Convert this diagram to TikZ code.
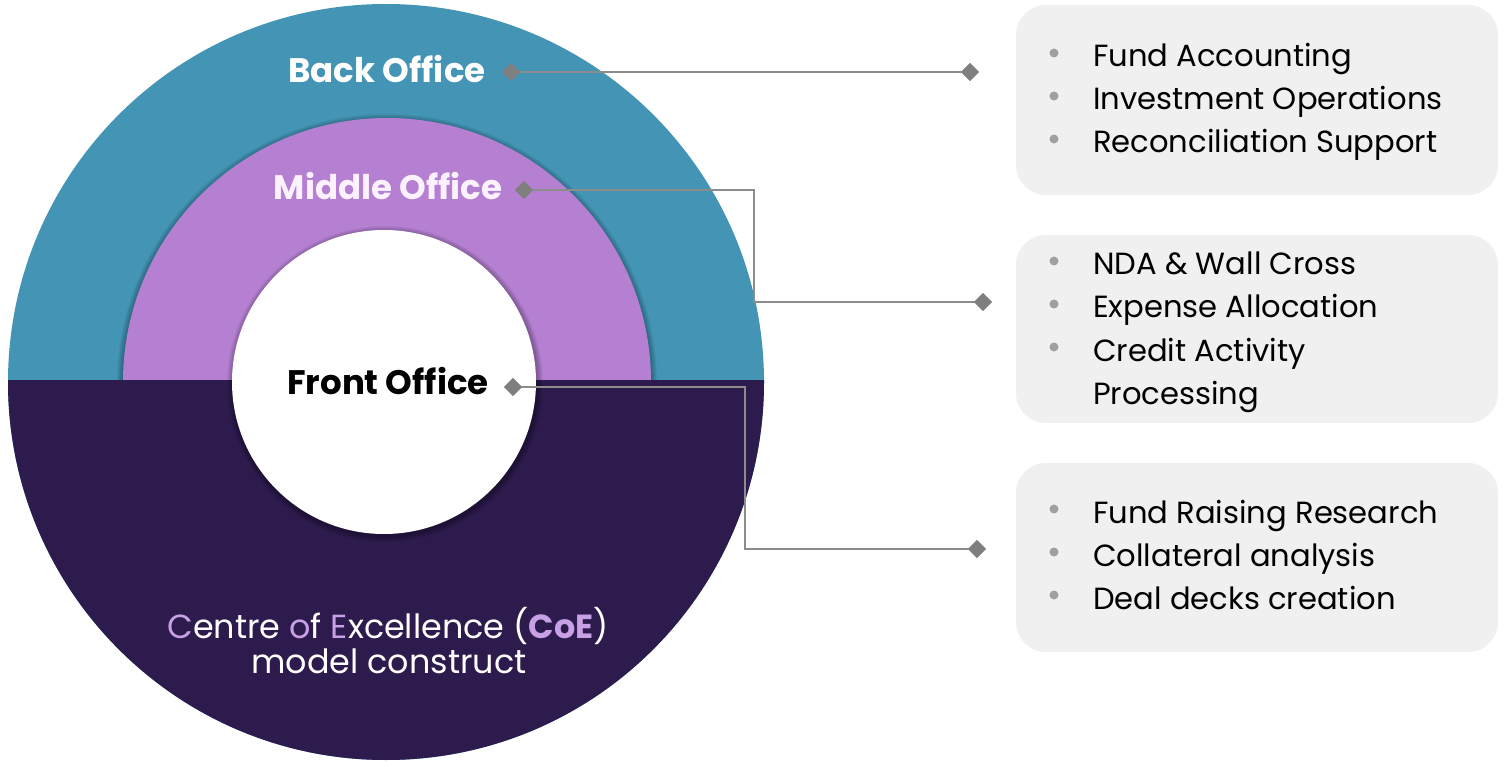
\documentclass[tikz,border=0pt]{standalone}
\usepackage{fontspec}
\setmainfont{Poppins}
\usetikzlibrary{shapes.geometric}
\definecolor{ringteal}{HTML}{4394B5}
\definecolor{ringpurple}{HTML}{B580D2}
\definecolor{ringdark}{HTML}{2D1B4D}
\definecolor{lav}{HTML}{C8A0E6}
\definecolor{midtext}{HTML}{FCF2FF}
\definecolor{boxgray}{HTML}{F0F0F0}
\definecolor{conngray}{HTML}{8C8C8C}
\definecolor{diagray}{HTML}{7F7F7F}
\definecolor{bulgray}{HTML}{A0A0A0}
\tikzset{
  ringlabel/.style={font=\fontsize{34}{40}\selectfont\bfseries, inner sep=0pt, anchor=base},
  dia/.style={diamond, fill=diagray, inner sep=0pt, minimum width=18pt, minimum height=18pt},
  conn/.style={draw=conngray, line width=2pt},
  infobox/.style={fill=boxgray, rounded corners=30pt, inner sep=0pt, minimum width=482pt},
  item/.style={font=\fontsize{30.6}{36}\selectfont, inner sep=0pt, anchor=base west, text=black},
  bul/.style={circle, fill=bulgray, inner sep=0pt, minimum size=9pt},
  coe/.style={font=\fontsize{33.4}{38}\selectfont, inner sep=0pt, anchor=base, text=white}
}
\begin{document}
\begin{tikzpicture}[x=1pt,y=-1pt]
\useasboundingbox (0,0) rectangle (1505,767);
\fill[white] (0,0) rectangle (1505,767);
% outer ring (teal)
\fill[ringteal] (386,382) circle (378pt);
% shadow + middle ring
\foreach \r in {1,2,3,4,5,6} {\fill[black,opacity=0.05] (387,384) circle (264pt+\r pt);}
\fill[ringpurple] (387,382) circle (264pt);
% lower half dark
\begin{scope}
\clip (0,380) rectangle (770,767);
\fill[ringdark] (386,382) circle (378pt);
\end{scope}
% inner white circle with shadow
\foreach \r in {1,2,3,4,5,6} {\fill[black,opacity=0.05] (385,384) circle (152pt+\r pt);}
\fill[white] (384,382) circle (152pt);

% ring labels
\node[ringlabel, text=white] (back) at (387,83) {Back Office};
\node[ringlabel, text=midtext] (middle) at (388,200) {Middle Office};
\node[ringlabel, text=black] (front) at (388,394) {Front Office};

\node[coe] (coe1) at (388,638) {{\color{lav}C}entre {\color{lav}o}f {\color{lav}E}xcellence ({\color{lav}\bfseries CoE})};
\node[coe] (coe2) at (389,673) {model construct};

% boxes
\node[infobox, minimum height=190pt] (box1) at (1257,100) {};
\node[infobox, minimum height=188pt] (box2) at (1257,329) {};
\node[infobox, minimum height=189pt] (box3) at (1257,557.5) {};

% connectors
\node[dia] (bd1) at (511,72) {};
\node[dia] (bd2) at (970,72) {};
\node[dia] (md1) at (524,190) {};
\node[dia] (md2) at (983,302) {};
\node[dia] (fd1) at (513,387) {};
\node[dia] (fd2) at (977,549) {};
\coordinate (mk) at (754,0);
\coordinate (fk) at (745,0);
\draw[conn] (bd1.center) -- (bd2.center);
\draw[conn] (md1.center) -- (md1.center -| mk) |- (md2.center);
\draw[conn] (fd1.center) -- (fd1.center -| fk) |- (fd2.center);
\node[dia] at (bd1) {};
\node[dia] at (bd2) {};
\node[dia] at (md1) {};
\node[dia] at (md2) {};
\node[dia] at (fd1) {};
\node[dia] at (fd2) {};

% box 1 items
\node[bul] (b1a) at (1054,53) {};
\node[bul] (b1b) at (1054,96) {};
\node[bul] (b1c) at (1054,139) {};
\node[item] (t1a) at (1093,67) {Fund Accounting};
\node[item] (t1b) at (1093,110) {Investment Operations};
\node[item] (t1c) at (1093,153) {Reconciliation Support};
% box 2 items
\node[bul] (b2a) at (1054,261) {};
\node[bul] (b2b) at (1054,304) {};
\node[bul] (b2c) at (1054,347) {};
\node[item] (t2a) at (1093,275) {NDA \& Wall Cross};
\node[item] (t2b) at (1093,318) {Expense Allocation};
\node[item] (t2c) at (1093,361) {Credit Activity};
\node[item] (t2d) at (1093,404) {Processing};
% box 3 items
\node[bul] (b3a) at (1054,509) {};
\node[bul] (b3b) at (1054,552) {};
\node[bul] (b3c) at (1054,595) {};
\node[item] (t3a) at (1093,523) {Fund Raising Research};
\node[item] (t3b) at (1093,566) {Collateral analysis};
\node[item] (t3c) at (1093,609) {Deal decks creation};
\end{tikzpicture}
\end{document}
